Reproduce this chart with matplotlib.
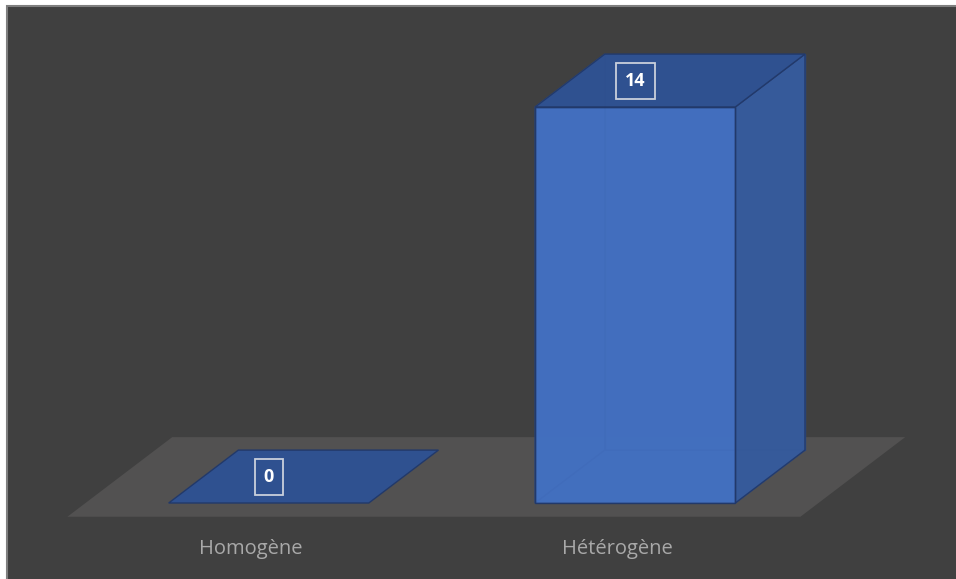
import matplotlib
matplotlib.use("Agg")
import matplotlib.pyplot as plt
from matplotlib.patches import Polygon, Rectangle

# donnees
categories = ["Homogène", "Hétérogène"]
valeurs = [0, 14]

# ---- style / geometrie pseudo 3D
BG = "#404040"
FLOOR = "#525151"
FRONT = "#4472c4"
SIDE = "#365a9a"
TOP = "#2f5190"
EDGE = "#22396a"
bar_w = 0.546        # largeur d'une barre (unites categories)
dep_x = 0.19         # decalage en x pour une profondeur de 1
dep_y = 1.87         # decalage en y pour une profondeur de 1
floor_f0, floor_f1 = -0.26, 1.245   # profondeur avant / arriere du sol


def box_faces(x, v):
    """coins des faces d'une barre 3D (front, top, side, back, left, bottom)"""
    x0, x1 = x - bar_w / 2, x + bar_w / 2
    def p(xx, yy, d):
        return (xx + d * dep_x, yy + d * dep_y)
    front = [p(x0, 0, 0), p(x1, 0, 0), p(x1, v, 0), p(x0, v, 0)]
    back = [p(x0, 0, 1), p(x1, 0, 1), p(x1, v, 1), p(x0, v, 1)]
    top = [p(x0, v, 0), p(x1, v, 0), p(x1, v, 1), p(x0, v, 1)]
    bottom = [p(x0, 0, 0), p(x1, 0, 0), p(x1, 0, 1), p(x0, 0, 1)]
    side = [p(x1, 0, 0), p(x1, 0, 1), p(x1, v, 1), p(x1, v, 0)]
    left = [p(x0, 0, 0), p(x0, 0, 1), p(x0, v, 1), p(x0, v, 0)]
    return front, top, side, back, left, bottom


fig = plt.figure(figsize=(9.56, 5.79), dpi=100)
fig.patch.set_facecolor("white")
fig.patches.append(Rectangle((7 / 956, -0.01), 1.0, 1 - 6 / 579 + 0.01,
                             transform=fig.transFigure, facecolor=BG,
                             edgecolor="#7f7f7f", linewidth=1.5, zorder=-10))

ax = fig.add_axes([85.5 / 956, 76 / 579, 733 / 956, 396 / 579])
ax.set_xlim(-0.5, 1.5)
ax.set_ylim(0, max(valeurs))
ax.axis("off")

# sol
n = len(categories)
fl = [(-0.5 + floor_f0 * dep_x, floor_f0 * dep_y),
      (n - 0.5 + floor_f0 * dep_x, floor_f0 * dep_y),
      (n - 0.5 + floor_f1 * dep_x, floor_f1 * dep_y),
      (-0.5 + floor_f1 * dep_x, floor_f1 * dep_y)]
ax.add_patch(Polygon(fl, closed=True, facecolor=FLOOR, edgecolor="none",
                     clip_on=False, zorder=1))

for i, v in enumerate(valeurs):
    front, top, side, back, left, bottom = box_faces(i, v)
    if v == 0:
        ax.add_patch(Polygon(bottom, closed=True, facecolor="#2f5190",
                             edgecolor=EDGE, lw=1.0, clip_on=False, zorder=2))
    else:
        # faces cachees (visibles a travers la transparence)
        for f in (back, left, bottom):
            ax.add_patch(Polygon(f, closed=True, facecolor="#3a62a8",
                                 edgecolor="#2c4c88", lw=1.0, alpha=0.9,
                                 clip_on=False, zorder=2))
        ax.add_patch(Polygon(side, closed=True, facecolor=SIDE, edgecolor=EDGE,
                             lw=1.0, alpha=0.92, clip_on=False, zorder=3))
        ax.add_patch(Polygon(top, closed=True, facecolor=TOP, edgecolor=EDGE,
                             lw=1.0, alpha=0.95, clip_on=False, zorder=3))
        ax.bar(i, v, width=bar_w, color=FRONT, alpha=0.85, edgecolor=EDGE,
               linewidth=1.0, zorder=4)
        ax.add_patch(Polygon(front, closed=True, facecolor="none",
                             edgecolor=EDGE, lw=1.0, clip_on=False, zorder=5))

    # etiquette de valeur
    ax.text(i, v + 0.5 * dep_y, str(v), ha="center", va="center",
            fontsize=13, fontweight="bold", color="white", family="Open Sans",
            zorder=6,
            bbox=dict(boxstyle="square,pad=0.5", facecolor="#2f5190",
                      edgecolor="#c9d0dc", linewidth=1.3))

    # etiquette de categorie
    ax.text(i + floor_f0 * dep_x, -1.63, categories[i], ha="center",
            va="center", fontsize=14.5, color="#a9a9a9", family="Open Sans",
            zorder=6)

fig.savefig("out.png", dpi=100, facecolor=fig.get_facecolor())
